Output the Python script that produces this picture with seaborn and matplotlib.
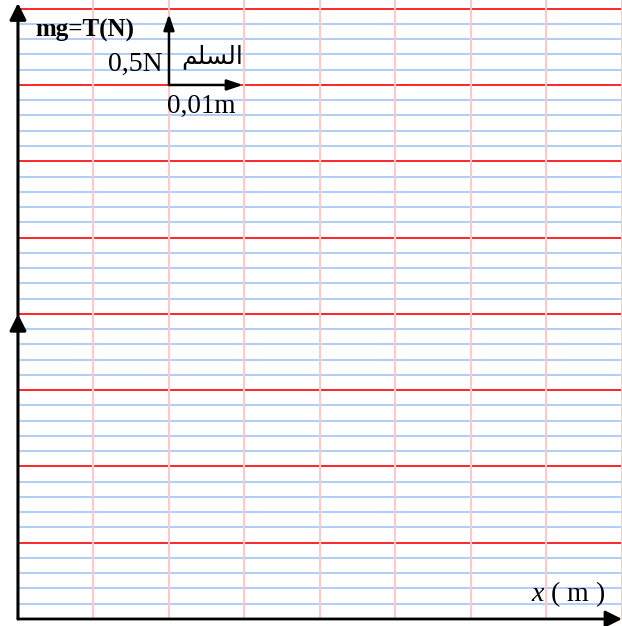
import matplotlib
matplotlib.use('Agg')
import matplotlib.pyplot as plt
import seaborn as sns

# graph paper: x in metres, y in newtons
x_major = [0.01, 0.02, 0.03, 0.04, 0.05, 0.06, 0.07, 0.08]
y_major = [0.5, 1.0, 1.5, 2.0, 2.5, 3.0, 3.5, 4.0]
y_minor = [0.1, 0.2, 0.3, 0.4, 0.6, 0.7, 0.8, 0.9,
           1.1, 1.2, 1.3, 1.4, 1.6, 1.7, 1.8, 1.9,
           2.1, 2.2, 2.3, 2.4, 2.6, 2.7, 2.8, 2.9,
           3.1, 3.2, 3.3, 3.4, 3.6, 3.7, 3.8, 3.9]

# scale marker: 0,01 m horizontally, 0,5 N vertically
scale_origin = (0.02, 3.5)
scale_dx = 0.01
scale_dy = 0.5

y_label = 'mg=T(N)'
x_label = r'$x$ ( m )'
scale_y_text = '0,5N'
scale_x_text = '0,01m'
# "السلم" written in shaped (presentation) forms, visual order
scale_word = '\uFEE2\uFEE0\uFEB4\uFEDF\uFE8D'

sns.set_theme(style='white')
plt.rcParams['font.family'] = ['Liberation Serif', 'DejaVu Sans']
plt.rcParams['text.color'] = 'black'
plt.rcParams['mathtext.fontset'] = 'custom'
plt.rcParams['mathtext.rm'] = 'Liberation Serif'
plt.rcParams['mathtext.it'] = 'Liberation Serif:italic'

fig = plt.figure(figsize=(6.22, 6.26), dpi=100)
ax = fig.add_axes([0, 0, 1, 1])
xmin, xmax = -0.00238, 0.08
ymin, ymax = -0.046, 4.057
ax.set_xlim(xmin, xmax)
ax.set_ylim(ymin, ymax)
ax.set_axis_off()

ax.hlines(y_minor, 0, xmax, color='#aecdf6', lw=1.4, zorder=1)
ax.hlines(y_major, 0, xmax, color='#ff0000', lw=1.2, zorder=2)
ax.vlines(x_major, 0, ymax, color='#ffc9c9', lw=1.5, zorder=3)

head_big = '-|>,head_length=1.0,head_width=0.5'
head_small = '-|>,head_length=0.95,head_width=0.32'

# y axis (two arrow heads) and x axis
ax.annotate('', xy=(0, 2.0), xytext=(0, 0),
            arrowprops=dict(arrowstyle=head_big, color='black', lw=2.2,
                            mutation_scale=10, shrinkA=0, shrinkB=0),
            zorder=5, annotation_clip=False)
ax.annotate('', xy=(0, ymax - 0.02), xytext=(0, 1.99),
            arrowprops=dict(arrowstyle=head_big, color='black', lw=2.2,
                            mutation_scale=10, shrinkA=0, shrinkB=0),
            zorder=5, annotation_clip=False)
ax.annotate('', xy=(xmax, 0), xytext=(0, 0),
            arrowprops=dict(arrowstyle=head_big, color='black', lw=2.0,
                            mutation_scale=10, shrinkA=0, shrinkB=0),
            zorder=5, annotation_clip=False)

# scale arrows
ox, oy = scale_origin
ax.annotate('', xy=(ox, oy + scale_dy * 0.93), xytext=(ox, oy),
            arrowprops=dict(arrowstyle=head_small, color='black', lw=1.8,
                            mutation_scale=10, shrinkA=0, shrinkB=0),
            zorder=5)
ax.annotate('', xy=(ox + scale_dx * 0.98, oy), xytext=(ox, oy),
            arrowprops=dict(arrowstyle=head_small, color='black', lw=1.8,
                            mutation_scale=10, shrinkA=0, shrinkB=0),
            zorder=5)

ax.text(0.00225, 3.82, y_label, fontsize=18, fontweight='bold',
        color='black', ha='left', va='baseline', zorder=6)
ax.text(0.0192, 3.593, scale_y_text, fontsize=20, color='black',
        ha='right', va='baseline', zorder=6)
ax.text(0.0216, 3.64, scale_word, fontsize=18, color='black',
        ha='left', va='baseline', family=['DejaVu Sans'], zorder=6)
ax.text(0.0197, 3.316, scale_x_text, fontsize=19.5, color='black',
        ha='left', va='baseline', zorder=6)
ax.text(0.0680, 0.118, x_label, fontsize=20, color='black',
        ha='left', va='baseline', zorder=6)

fig.savefig('out.png', dpi=100, facecolor='white')
